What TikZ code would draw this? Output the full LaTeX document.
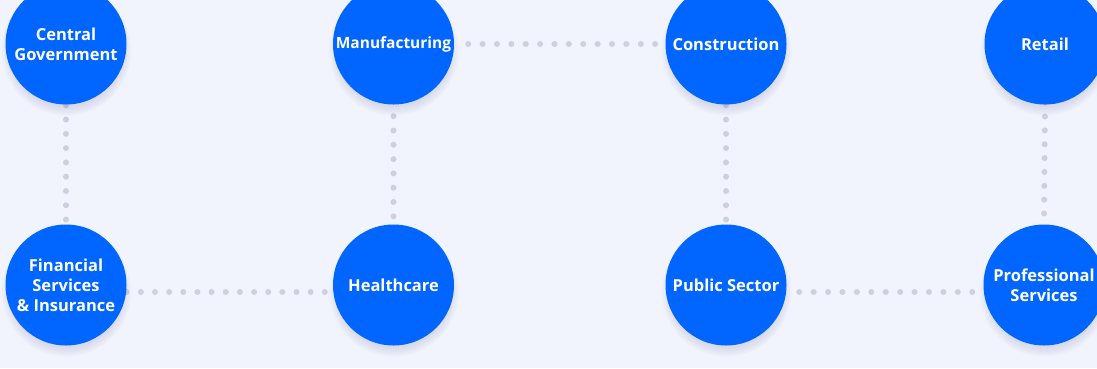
\documentclass[tikz,border=0pt]{standalone}
\usepackage{fontspec}
\setmainfont{Open Sans}
\usetikzlibrary{shadows}
\definecolor{bgblue}{HTML}{F1F3FD}
\definecolor{nodeblue}{HTML}{0066FF}
\definecolor{dotgray}{HTML}{CDD0DE}
\pgfdeclarelayer{back}
\pgfdeclarelayer{dots}
\pgfsetlayers{back,dots,main}
\tikzset{
  sector/.style={circle, fill=nodeblue, minimum size=121pt, inner sep=0pt,
    text=white, align=center, font=\bfseries\fontsize{16.5}{20}\selectfont,
    circular drop shadow={shadow xshift=0pt, shadow yshift=-6pt, shadow scale=1.08, opacity=0.10, fill=black!70!blue}},
  dotline/.style={dotgray, line width=6pt, line cap=round, dash pattern=on 0pt off #1},
  dotline/.default=14.35pt
}
\begin{document}
\begin{tikzpicture}[x=1pt, y=-1pt]
          \begin{pgfonlayer}{back}
            \fill[bgblue] (0,0) rectangle (1097,368);
          \end{pgfonlayer}
          \useasboundingbox (0,0) rectangle (1097,368);
          %
          \node[sector] (govt) at (66, 44) {Central\\Government};
          \node[sector, font=\bfseries\fontsize{15.5}{20}\selectfont] (manuf) at (393.5, 44) {Manufacturing};
          \node[sector] (constr) at (726, 44) {Construction};
          \node[sector] (retail) at (1045, 44) {Retail};
          \node[sector] (finance) at (66, 285) {Financial\\Services\\\& Insurance};
          \node[sector] (health) at (393.5, 285) {Healthcare};
          \node[sector] (public) at (726, 285) {Public Sector};
          \node[sector] (prof) at (1044, 285) {Professional\\Services};
          %
          \begin{pgfonlayer}{dots}
            \draw[dotline=14.3pt, shorten <=0.5pt, shorten >=4.6pt] (govt.south) -- (finance.north);
            \draw[dotline=14.3pt, shorten <=11.5pt, shorten >=7.9pt] (manuf.south) -- (health.north);
            \draw[dotline=14.3pt, shorten <=0.5pt, shorten >=4.6pt] (constr.south) -- (public.north);
            \draw[dotline=13.85pt, shorten <=-2pt, shorten >=9.5pt] (retail.south) -- (prof.north);
            \draw[dotline=14.38pt, shorten <=14pt, shorten >=10pt] (manuf.east) -- (constr.west);
            \draw[dotline=14.15pt, shorten <=0pt, shorten >=7.9pt] ([yshift=-7pt]finance.east) -- ([yshift=-7pt]health.west);
            \draw[dotline=14.42pt, shorten <=12.5pt, shorten >=10.5pt] ([yshift=-7pt]public.east) -- ([yshift=-7pt]prof.west);
          \end{pgfonlayer}
        \end{tikzpicture}
\end{document}
